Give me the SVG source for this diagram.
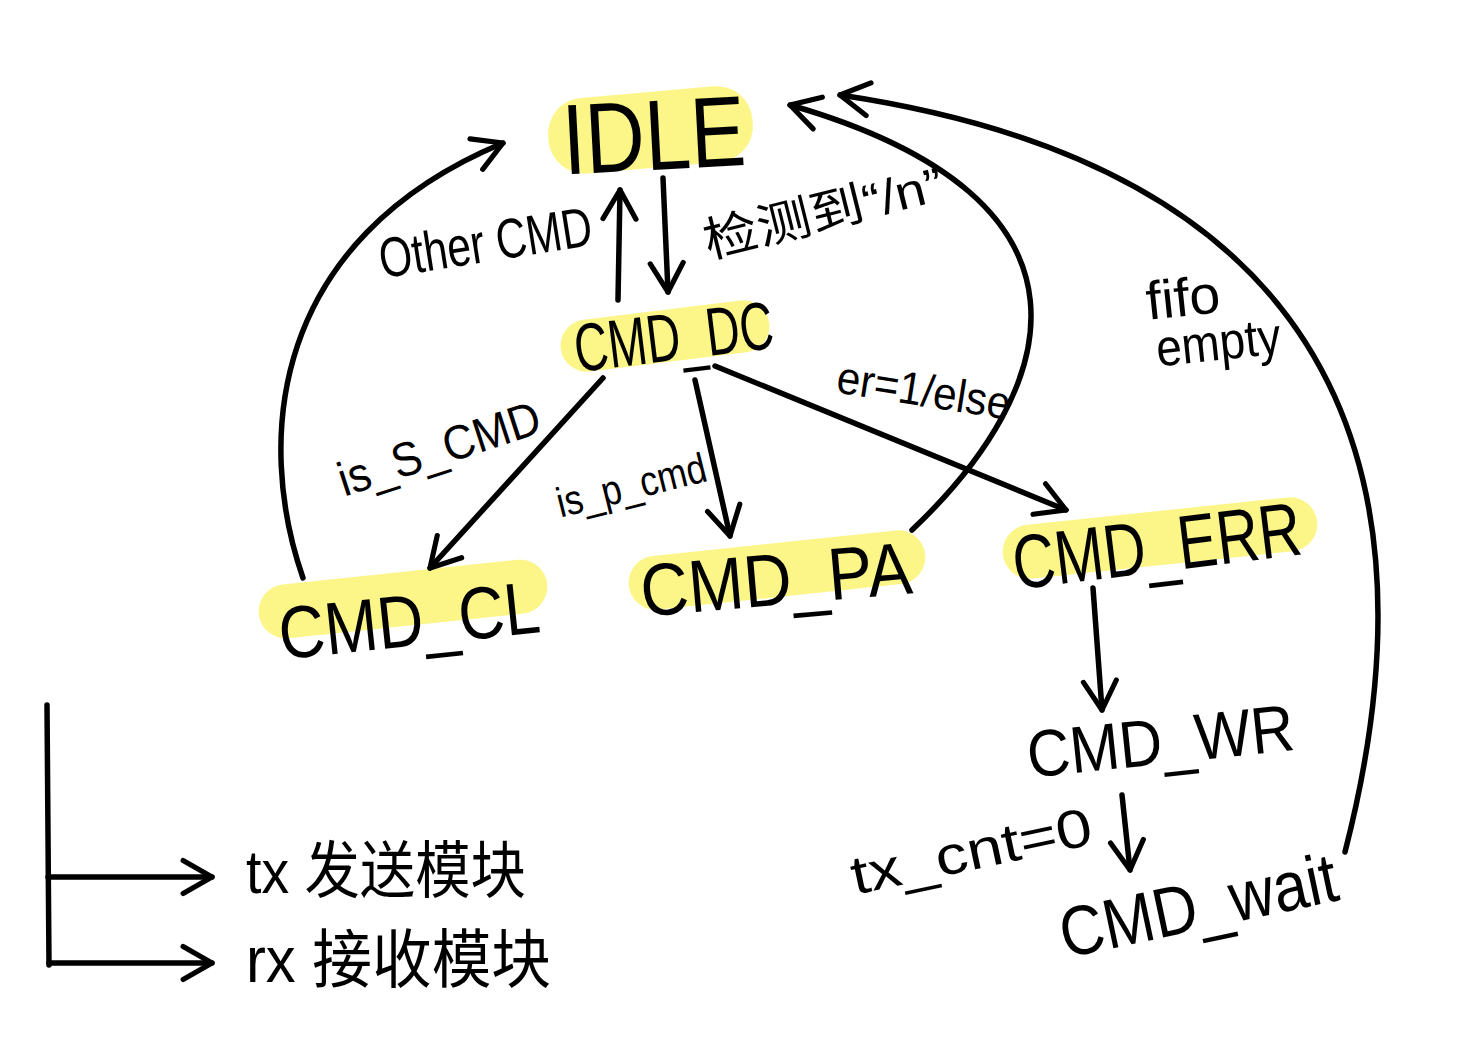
<svg xmlns="http://www.w3.org/2000/svg" width="1481" height="1058" viewBox="0 0 1481 1058">
<style>
.hl{fill:#fbf57a;opacity:0.9}
.t{font-family:"Liberation Sans","Noto Sans CJK SC",sans-serif;fill:#000}
.c{fill:none;stroke:#000;stroke-width:5.5;stroke-linecap:round;stroke-linejoin:round}
</style>
<defs>
<marker id="ah" viewBox="0 0 20 20" refX="16" refY="10" markerWidth="7.5" markerHeight="7.5" markerUnits="strokeWidth" orient="auto">
<path d="M2,2 L16,10 L2,18" fill="none" stroke="#000" stroke-width="2.5" stroke-linecap="round" stroke-linejoin="round"/>
</marker>
</defs>
<rect width="1481" height="1058" fill="#fff"/>

<g id="IDLE">
<rect class="hl" x="548" y="92" width="205" height="76" rx="36" transform="rotate(-5 650 130)"/>
<text class="t" x="562" y="170" font-size="100" textLength="183" lengthAdjust="spacingAndGlyphs" transform="rotate(-3 650 130)">IDLE</text>
</g>
<g id="CMD_DC">
<rect class="hl" x="560" y="310" width="210" height="52" rx="26" transform="rotate(-7 665 336)"/>
<text class="t" x="574" y="360" font-size="68" textLength="200" lengthAdjust="spacingAndGlyphs" transform="rotate(-7 675 340)">CMD_DC</text>
</g>
<g id="CMD_CL">
<rect class="hl" x="258" y="572" width="290" height="54" rx="27" transform="rotate(-6 403 599)"/>
<text class="t" x="278" y="646" font-size="74" textLength="262" lengthAdjust="spacingAndGlyphs" transform="rotate(-6 409 620)">CMD_CL</text>
</g>
<g id="CMD_PA">
<rect class="hl" x="628" y="543" width="298" height="54" rx="27" transform="rotate(-6 777 570)"/>
<text class="t" x="640" y="605" font-size="74" textLength="272" lengthAdjust="spacingAndGlyphs" transform="rotate(-5 776 580)">CMD_PA</text>
</g>
<g id="CMD_ERR">
<rect class="hl" x="1002" y="511" width="316" height="54" rx="27" transform="rotate(-6 1160 538)"/>
<text class="t" x="1012" y="572" font-size="76" textLength="290" lengthAdjust="spacingAndGlyphs" transform="rotate(-7 1157 548)">CMD_ERR</text>
</g>
<g id="CMD_WR">
<text class="t" x="1026" y="764" font-size="66" textLength="268" lengthAdjust="spacingAndGlyphs" transform="rotate(-6 1160 738)">CMD_WR</text>
</g>
<g id="CMD_wait">
<text class="t" x="1055" y="930" font-size="70" textLength="282" lengthAdjust="spacingAndGlyphs" transform="rotate(-12 1195 895)">CMD_wait</text>
</g>

<g id="connectors">
<path class="c" d="M663,178 L668,292" marker-end="url(#ah)"/>
<path class="c" d="M618,300 L620,190" marker-end="url(#ah)"/>
<path class="c" d="M603,378 L430,568" marker-end="url(#ah)"/>
<path class="c" d="M695,380 L730,536" marker-end="url(#ah)"/>
<path class="c" d="M715,366 L1066,510" marker-end="url(#ah)"/>
<path class="c" d="M303,578 C255,440 270,240 503,143" marker-end="url(#ah)"/>
<path class="c" d="M912,530 C1060,390 1120,200 790,105" marker-end="url(#ah)"/>
<path class="c" d="M1345,852 C1420,560 1410,180 840,95" marker-end="url(#ah)"/>
<path class="c" d="M1093,588 L1102,710" marker-end="url(#ah)"/>
<path class="c" d="M1122,795 L1130,870" marker-end="url(#ah)"/>
<path class="c" d="M47,705 L49,965"/>
<path class="c" d="M48,877 L212,877" marker-end="url(#ah)"/>
<path class="c" d="M49,963 L212,963" marker-end="url(#ah)"/>
</g>

<g id="labels">
<text class="t" x="376" y="262" font-size="56" textLength="215" lengthAdjust="spacingAndGlyphs" transform="rotate(-9 483 230)">Other CMD</text>
<text class="t" x="696" y="230" font-size="48" textLength="245" lengthAdjust="spacingAndGlyphs" transform="rotate(-14 818 193)">检测到“/n”</text>
<text class="t" x="836" y="406" font-size="46" textLength="175" lengthAdjust="spacingAndGlyphs" transform="rotate(9 923 393)">er=1/else</text>
<text class="t" x="328" y="466" font-size="48" textLength="210" lengthAdjust="spacingAndGlyphs" transform="rotate(-18 433 430)">is_S_CMD</text>
<text class="t" x="552" y="500" font-size="42" textLength="153" lengthAdjust="spacingAndGlyphs" transform="rotate(-14 628 474)">is_p_cmd</text>
<text class="t" x="1146" y="316" font-size="54" textLength="74" lengthAdjust="spacingAndGlyphs" transform="rotate(-6 1184 298)">fifo</text>
<text class="t" x="1156" y="360" font-size="52" textLength="125" lengthAdjust="spacingAndGlyphs" transform="rotate(-6 1218 345)">empty</text>
<text class="t" x="846" y="870" font-size="54" textLength="245" lengthAdjust="spacingAndGlyphs" transform="rotate(-12 968 838)">tx_cnt=0</text>
<text class="t" x="246" y="893" font-size="62" textLength="280" lengthAdjust="spacingAndGlyphs">tx 发送模块</text>
<text class="t" x="246" y="982" font-size="64" textLength="305" lengthAdjust="spacingAndGlyphs">rx 接收模块</text>
</g>
</svg>
